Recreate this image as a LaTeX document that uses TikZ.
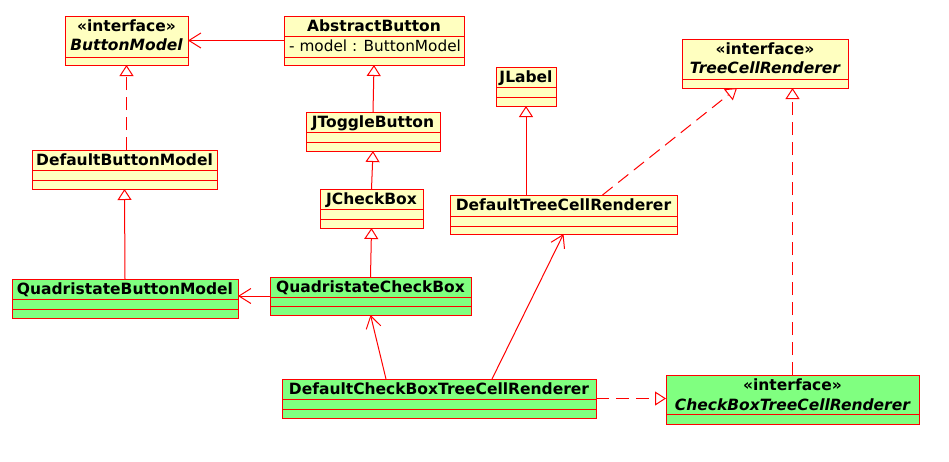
\documentclass[tikz,border=0pt]{standalone}
\usepackage{fontspec}
\setmainfont{DejaVu Sans}
\usetikzlibrary{arrows.meta,fit}
\definecolor{yel}{RGB}{255,255,192}
\definecolor{grn}{RGB}{128,255,128}
\definecolor{umlred}{RGB}{255,0,0}
\tikzset{
  cls/.style={draw=umlred, line width=1pt, inner sep=0pt, outer sep=0pt},
  sepline/.style={draw=umlred, line width=1pt},
  ttl/.style={anchor=base, inner sep=0pt, font=\fontsize{15.5}{18}\selectfont\bfseries},
  ittl/.style={anchor=base, inner sep=0pt, font=\fontsize{15.5}{18}\selectfont\bfseries\itshape},
  attr/.style={anchor=base west, inner sep=0pt, font=\fontsize{15.3}{18}\selectfont},
  conn/.style={draw=umlred, line width=1pt},
  inherit/.style={conn, -{Triangle[length=11pt, width=14pt, fill=white, line width=1pt]}},
  realize/.style={inherit, dash pattern=on 13pt off 7pt},
  assoc/.style={conn, -{Straight Barb[length=12pt, width=15pt, line width=1pt]}},
}
\newcommand\sepat[2]{\draw[sepline] ([yshift=-#2pt]#1.north west) -- ([yshift=-#2pt]#1.north east);}
\begin{document}
\begin{tikzpicture}[x=1pt, y=-1pt]
\path[fill=white, use as bounding box] (0,0) rectangle (949,461);

% ButtonModel
\node[cls, fill=yel, fit={(65,16) (188,65)}] (bm) {};
\sepat{bm}{41}
\node[ttl] at ([yshift=-15pt]bm.north) {«interface»};
\node[ittl] at ([yshift=-34pt]bm.north) {ButtonModel};

% AbstractButton
\node[cls, fill=yel, fit={(284,16) (464,65)}] (ab) {};
\sepat{ab}{20}
\sepat{ab}{41}
\node[ttl] at ([yshift=-15.5pt]ab.north) {AbstractButton};
\node[attr] at ([xshift=5pt, yshift=-35pt]ab.north west) {- model : ButtonModel};

% JToggleButton
\node[cls, fill=yel, fit={(306,112) (440,151)}] (jtb) {};
\sepat{jtb}{20}
\sepat{jtb}{30}
\node[ttl] at ([yshift=-15.5pt]jtb.north) {JToggleButton};

% DefaultButtonModel
\node[cls, fill=yel, fit={(32,150) (217,189)}] (dbm) {};
\sepat{dbm}{20}
\sepat{dbm}{30}
\node[ttl] at ([yshift=-15.5pt]dbm.north) {DefaultButtonModel};

% JCheckBox
\node[cls, fill=yel, fit={(320,189) (423,228)}] (jcb) {};
\sepat{jcb}{20}
\sepat{jcb}{30}
\node[ttl] at ([yshift=-15.5pt]jcb.north) {JCheckBox};

% QuadristateButtonModel
\node[cls, fill=grn, fit={(12,279) (238,318)}] (qbm) {};
\sepat{qbm}{20}
\sepat{qbm}{30}
\node[ttl] at ([yshift=-15.5pt]qbm.north) {QuadristateButtonModel};

% QuadristateCheckBox
\node[cls, fill=grn, fit={(270,277) (471,315)}] (qcb) {};
\sepat{qcb}{20}
\sepat{qcb}{29}
\node[ttl] at ([yshift=-15.5pt]qcb.north) {QuadristateCheckBox};

% JLabel
\node[cls, fill=yel, fit={(496,67) (556,106)}] (jl) {};
\sepat{jl}{20}
\sepat{jl}{30}
\node[ttl] at ([yshift=-15.5pt]jl.north) {JLabel};

% TreeCellRenderer
\node[cls, fill=yel, fit={(682,39) (848,88)}] (tcr) {};
\sepat{tcr}{40}
\node[ttl] at ([yshift=-15pt]tcr.north) {«interface»};
\node[ittl] at ([yshift=-34pt]tcr.north) {TreeCellRenderer};

% DefaultTreeCellRenderer
\node[cls, fill=yel, fit={(450,195) (677,234)}] (dtcr) {};
\sepat{dtcr}{21}
\sepat{dtcr}{31}
\node[ttl] at ([yshift=-15.5pt]dtcr.north) {DefaultTreeCellRenderer};

% DefaultCheckBoxTreeCellRenderer
\node[cls, fill=grn, fit={(282,379) (596,418)}] (dcb) {};
\sepat{dcb}{20}
\sepat{dcb}{30}
\node[ttl] at ([yshift=-15pt]dcb.north) {DefaultCheckBoxTreeCellRenderer};

% CheckBoxTreeCellRenderer
\node[cls, fill=grn, fit={(666,375) (919,424)}] (cbt) {};
\sepat{cbt}{39}
\node[ttl] at ([yshift=-15pt]cbt.north) {«interface»};
\node[ittl] at ([yshift=-35pt]cbt.north) {CheckBoxTreeCellRenderer};

% connectors
\draw[assoc] (ab.west) -- (bm.east);
\draw[realize] (bm.south |- dbm.north) -- (bm.south);
\draw[inherit] (jtb.north) -- (ab.south);
\draw[inherit] (jcb.north) -- (jtb.south);
\draw[inherit] (qcb.north) -- (jcb.south);
\draw[inherit] (qbm.north) -- (dbm.south);
\draw[assoc] (qcb.west) -- (qbm.east |- qcb.west);
\draw[inherit] (jl.south |- dtcr.north) -- (jl.south);
\draw[realize] ([xshift=39pt]dtcr.north) -- ([xshift=-28pt]tcr.south);
\draw[realize] (cbt.north) -- (cbt.north |- tcr.south);
\draw[realize] (dcb.east) -- (cbt.west |- dcb.east);
\draw[assoc] ([xshift=-53pt]dcb.north) -- (qcb.south);
\draw[assoc] ([xshift=53pt]dcb.north) -- (dtcr.south);
\end{tikzpicture}
\end{document}
